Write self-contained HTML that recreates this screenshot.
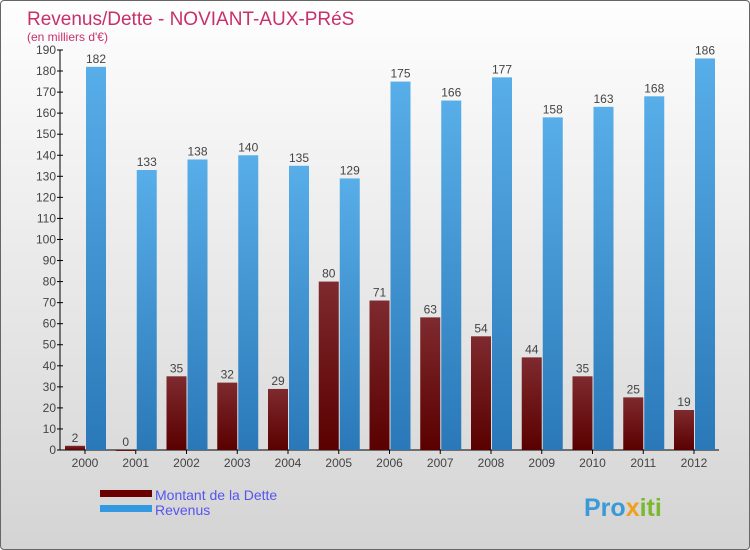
<!DOCTYPE html>
<html><head><meta charset="utf-8"><style>
body{margin:0}
#wrap{width:748px;height:548px;border:1px solid #666;border-radius:4px;background:linear-gradient(#fefefe,#d4d4d4);position:relative;overflow:hidden;font-family:"Liberation Sans",sans-serif}
</style></head><body>
<div id="wrap">
<svg id="c" width="748" height="548">
<defs>
<linearGradient id="gd" x1="0" y1="0" x2="0" y2="1"><stop offset="0" stop-color="#7e2a2e"/><stop offset="1" stop-color="#5a0000"/></linearGradient>
<linearGradient id="gr" x1="0" y1="0" x2="0" y2="1"><stop offset="0" stop-color="#58aee8"/><stop offset="1" stop-color="#2a78b8"/></linearGradient>
</defs>
<text x="26" y="24" font-size="19" fill="#c8306a">Revenus/Dette - NOVIANT-AUX-PRéS</text>
<text x="26" y="40" font-size="12" fill="#c8306a">(en milliers d'€)</text>
<g id="g"></g>
<rect x="99" y="489" width="52" height="7" fill="#6a0000"/>
<rect x="99" y="504" width="52" height="7" fill="#3399e0"/>
<text x="154" y="499" font-size="14" fill="#5555ee">Montant de la Dette</text>
<text x="154" y="514" font-size="14" fill="#5555ee">Revenus</text>
<text x="583" y="515" font-size="25" font-weight="bold" fill="#3a9ad8">Pro<tspan fill="#f0a020">x</tspan><tspan fill="#7ab830">iti</tspan></text>
</svg></div>
<script>
const years=["2000","2001","2002","2003","2004","2005","2006","2007","2008","2009","2010","2011","2012"];
const dette=[2,0,35,32,29,80,71,63,54,44,35,25,19];
const revenus=[182,133,138,140,135,129,175,166,177,158,163,168,186];
const yTicks=[0,10,20,30,40,50,60,70,80,90,100,110,120,130,140,150,160,170,180,190];
const NS="http://www.w3.org/2000/svg";
const g=document.getElementById("g");
const y=v=>449-v*400/190;
const x=i=>84+i*50.75;
function mk(t,a){const e=document.createElementNS(NS,t);for(const k in a)e.setAttribute(k,a[k]);g.appendChild(e);return e;}
let ax=mk("line",{x1:59,y1:449,x2:59,y2:49,stroke:"#000"});


let bx=mk("line",{x1:59,y1:449,x2:718,y2:449,stroke:"#000"});


yTicks.forEach(v=>{
 let t=mk("line",{x1:56,x2:62,y1:y(v),y2:y(v),stroke:"#000"});
 
 
 let l=mk("text",{x:55,y:y(v)+4,"font-size":12,"text-anchor":"end",fill:"#444"});l.textContent=v;
 
 
});
years.forEach((yr,i)=>{
 let c=x(i);
 let t=mk("line",{x1:c,x2:c,y1:449,y2:453,stroke:"#000"});
 
 
 let l=mk("text",{x:c,y:466,"font-size":12,"text-anchor":"middle",fill:"#444"});l.textContent=yr;
 
 
 let d=dette[i],r=revenus[i];
 let b1=mk("rect",{x:c-20,y:y(d),width:20,height:Math.max(449-y(d),1),fill:"url(#gd)"});
 
 
 let b2=mk("rect",{x:c+1,y:y(r),width:20,height:449-y(r),fill:"url(#gr)"});
 
 
 let v1=mk("text",{x:c-10,y:y(d)-4,"font-size":12,"text-anchor":"middle",fill:"#444"});v1.textContent=d;
 
 
 let v2=mk("text",{x:c+11,y:y(r)-4,"font-size":12,"text-anchor":"middle",fill:"#444"});v2.textContent=r;
 
 
});
</script>
</body></html>
